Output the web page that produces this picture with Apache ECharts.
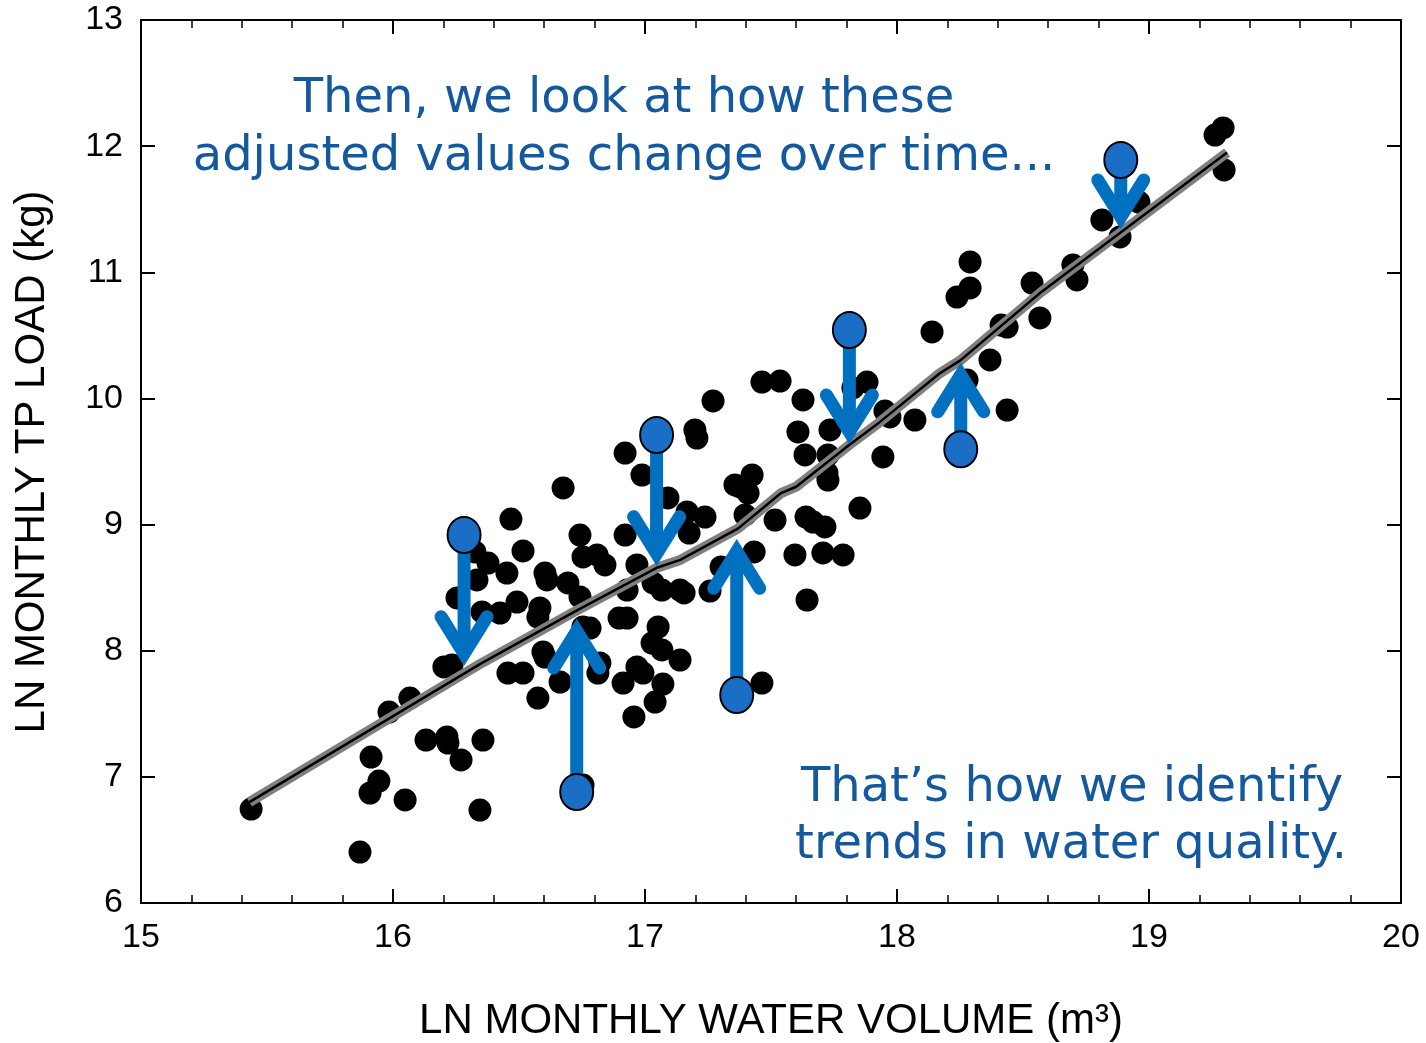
<!DOCTYPE html>
<html>
<head>
<meta charset="utf-8">
<script src="https://cdn.jsdelivr.net/npm/echarts@6/dist/echarts.min.js"></script>
<style>
  html, body { margin: 0; padding: 0; background: #fff; }
  #chart { width: 1426px; height: 1043px; }
</style>
</head>
<body>
<div id="chart"></div>
<script>
// ---- Data ----
const volumeX = [15.437, 15.869, 15.913, 15.909, 15.944, 15.984, 16.048, 16.067, 16.131, 16.202,
  16.234, 16.214, 16.218, 16.270, 16.345, 16.357, 16.254, 16.325, 16.377, 16.333,
  16.353, 16.452, 16.468, 16.516, 16.492, 16.425, 16.456, 16.516, 16.575, 16.595,
  16.603, 16.663, 16.583, 16.575, 16.603, 16.611, 16.675, 16.694, 16.742, 16.754,
  16.810, 16.841, 16.742, 16.754, 16.782, 16.754, 16.821, 16.813, 16.913, 16.956,
  16.921, 16.988, 16.921, 16.968, 16.929, 16.929, 16.897, 17.032, 17.067, 17.139,
  17.155, 17.052, 17.028, 17.067, 17.139, 16.968, 16.992, 17.071, 17.040, 17.091,
  17.167, 17.238, 17.175, 17.198, 17.206, 17.270, 17.258, 17.302, 17.377, 17.425,
  17.409, 17.357, 17.397, 17.516, 17.433, 17.595, 17.464, 17.464, 17.536, 17.627,
  17.607, 17.635, 17.726, 17.734, 17.726, 17.722, 17.639, 17.667, 17.714, 17.706,
  17.786, 17.853, 17.643, 17.881, 17.825, 17.952, 17.972, 18.071, 17.944, 18.139,
  18.290, 18.290, 18.238, 18.413, 18.437, 18.369, 18.278, 18.437, 18.536, 18.567,
  18.698, 18.714, 18.813, 18.885, 18.960, 18.885, 19.262, 19.294, 19.298];
const loadY = [6.745, 6.404, 7.157, 6.872, 6.967, 7.514, 6.817, 7.625, 7.292, 7.871,
  7.887, 7.316, 7.268, 7.134, 6.737, 7.292, 8.418, 8.783, 8.695, 8.561,
  8.307, 8.616, 9.044, 8.791, 8.386, 8.299, 7.823, 7.823, 7.625, 7.990,
  7.950, 7.752, 8.339, 8.267, 8.616, 8.561, 9.290, 8.537, 8.917, 8.743,
  8.759, 8.680, 8.426, 8.188, 8.180, 6.935, 7.903, 7.823, 7.744, 7.475,
  9.567, 9.393, 8.917, 8.680, 8.481, 8.259, 8.259, 8.537, 8.481, 8.481,
  8.458, 8.188, 8.061, 8.006, 7.926, 7.871, 7.823, 7.736, 7.593, 9.211,
  9.100, 9.060, 8.933, 9.750, 9.686, 9.980, 8.473, 8.664, 9.298, 9.393,
  9.250, 9.314, 9.076, 9.036, 8.783, 8.759, 7.744, 10.130, 10.138, 9.988,
  9.734, 9.552, 9.552, 9.750, 9.353, 9.409, 9.060, 9.020, 8.981, 8.775,
  8.759, 9.131, 8.402, 10.130, 10.083, 9.900, 9.853, 9.829, 9.536, 10.527,
  11.082, 10.876, 10.804, 10.582, 10.566, 10.305, 10.146, 9.908, 10.915, 10.638,
  11.058, 10.939, 11.415, 11.280, 11.557, 11.890, 12.088, 12.144, 11.811];

// fitted (smoothed) relationship
const fitX = [15.43, 16.35, 16.73, 17.05, 17.14, 17.37, 17.54, 17.60, 17.81, 17.93, 18.17, 18.25, 18.57, 18.89, 19.31];
const fitY = [6.80, 7.90, 8.32, 8.66, 8.72, 8.97, 9.25, 9.30, 9.63, 9.81, 10.20, 10.30, 10.84, 11.32, 11.95];

// highlighted observations and where their adjustment arrows point
const hiX = [16.282, 16.729, 17.046, 17.364, 17.811, 18.253, 18.888];
const hiY = [8.917, 6.880, 9.710, 7.649, 10.543, 9.597, 11.890];
const arrowToY = [7.873, 8.259, 8.666, 8.891, 9.631, 10.291, 11.335];

const xTicks = { min: 15, max: 20, interval: 1 };
const yTicks = { min: 6, max: 13, interval: 1 };

// ---- Build option ----
const scatterData = volumeX.map((x, i) => [x, loadY[i]]);
const fitData = fitX.map((x, i) => [x, fitY[i]]);
const hiData = hiX.map((x, i) => [x, hiY[i]]);
const arrowData = hiX.map((x, i) => [x, hiY[i], arrowToY[i]]);

const axisFont = "'Liberation Sans', Arial, sans-serif";
const noteFont = "'DejaVu Sans', Verdana, sans-serif";
const noteColor = '#14599E';
const arrowColor = '#0070C0';

function xAx(pos, showLabel) {
  return {
    type: 'value', position: pos, min: xTicks.min, max: xTicks.max, interval: xTicks.interval,
    axisLine: { show: true, onZero: false, lineStyle: { color: '#000', width: 2 } },
    axisTick: { show: true, inside: true, length: 14, lineStyle: { color: '#000', width: 2 } },
    minorTick: { show: true, splitNumber: 5, length: 8, lineStyle: { color: '#000', width: 1.5 } },
    axisLabel: { show: showLabel, fontSize: 34, fontFamily: axisFont, color: '#000', margin: 18 },
    splitLine: { show: false }, minorSplitLine: { show: false }
  };
}
function yAx(pos, showLabel) {
  return {
    type: 'value', position: pos, min: yTicks.min, max: yTicks.max, interval: yTicks.interval,
    axisLine: { show: true, onZero: false, lineStyle: { color: '#000', width: 2 } },
    axisTick: { show: true, inside: true, length: 14, lineStyle: { color: '#000', width: 2 } },
    axisLabel: { show: showLabel, fontSize: 34, fontFamily: axisFont, color: '#000', margin: 18 },
    splitLine: { show: false }
  };
}

const option = {
  animation: false,
  backgroundColor: '#fff',
  grid: { left: 141, right: 25, top: 20, bottom: 140, containLabel: false },
  xAxis: [xAx('bottom', true), xAx('top', false)],
  yAxis: [yAx('left', true), yAx('right', false)],
  series: [
    {
      type: 'scatter', data: scatterData, symbol: 'circle', symbolSize: 23,
      itemStyle: { color: '#000', opacity: 1 }, z: 2, silent: true
    },
    {
      type: 'line', data: fitData, showSymbol: false, smooth: false,
      lineStyle: { color: '#7f7f7f', width: 10, cap: 'butt' }, z: 3, silent: true
    },
    {
      type: 'line', data: fitData, showSymbol: false, smooth: false,
      lineStyle: { color: '#000', width: 2.5 }, z: 4, silent: true
    },
    {
      type: 'custom', data: arrowData, z: 5, silent: true,
      encode: { x: 0, y: [1, 2] },
      renderItem: function (params, api) {
        const s = api.coord([api.value(0), api.value(1)]);
        const t = api.coord([api.value(0), api.value(2)]);
        const dir = t[1] > s[1] ? 1 : -1;
        const inset = 13, armDx = 23, armDy = 37;
        const v = [t[0], t[1] - dir * inset];
        return {
          type: 'group',
          children: [
            { type: 'line', shape: { x1: s[0], y1: s[1], x2: v[0], y2: v[1] },
              style: { stroke: arrowColor, lineWidth: 13, lineCap: 'butt' } },
            { type: 'polyline',
              shape: { points: [[v[0] - armDx, v[1] - dir * armDy], [v[0], v[1]], [v[0] + armDx, v[1] - dir * armDy]] },
              style: { stroke: arrowColor, fill: null, lineWidth: 13, lineCap: 'round', lineJoin: 'miter', miterLimit: 10 } }
          ]
        };
      }
    },
    {
      type: 'scatter', data: hiData, symbol: 'circle', symbolSize: [33, 36],
      itemStyle: { color: '#1B6EC6', borderColor: '#000', borderWidth: 2, opacity: 1 }, z: 6, silent: true
    }
  ],
  graphic: [
    { type: 'text', x: 624, y: 100, z: 10,
      style: { text: 'Then, we look at how these', fill: noteColor, font: "48px " + noteFont, textAlign: 'center', textVerticalAlign: 'middle' } },
    { type: 'text', x: 624, y: 158, z: 10,
      style: { text: 'adjusted values change over time...', fill: noteColor, font: "48px " + noteFont, textAlign: 'center', textVerticalAlign: 'middle' } },
    { type: 'text', x: 1072, y: 789, z: 10,
      style: { text: 'That\u2019s how we identify', fill: noteColor, font: "48px " + noteFont, textAlign: 'center', textVerticalAlign: 'middle' } },
    { type: 'text', x: 1071, y: 846, z: 10,
      style: { text: 'trends in water quality.', fill: noteColor, font: "48px " + noteFont, textAlign: 'center', textVerticalAlign: 'middle' } },
    { type: 'text', x: 771, y: 1021, z: 10,
      style: { text: 'LN MONTHLY WATER VOLUME (m\u00B3)', fill: '#000', font: "42px " + axisFont, textAlign: 'center', textVerticalAlign: 'middle' } },
    { type: 'text', x: 32, y: 462, rotation: Math.PI / 2, z: 10,
      style: { text: 'LN MONTHLY TP LOAD (kg)', fill: '#000', font: "42px " + axisFont, textAlign: 'center', textVerticalAlign: 'middle' } }
  ]
};

const chart = echarts.init(document.getElementById('chart'), null, { renderer: 'canvas' });
chart.setOption(option);
</script>
</body>
</html>
